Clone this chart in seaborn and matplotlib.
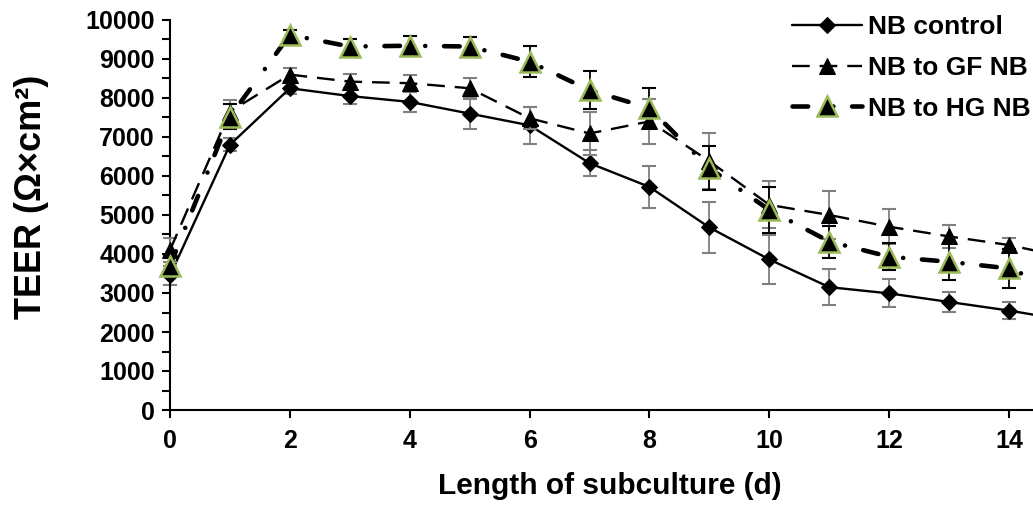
import numpy as np
import pandas as pd
import matplotlib
matplotlib.use("Agg")
import matplotlib.pyplot as plt
import seaborn as sns

# ---- data ----
days = list(range(16))
nb_control = [3450, 6800, 8250, 8050, 7900, 7600, 7300, 6330, 5720, 4680, 3860, 3150, 2990, 2770, 2550, 2290]
nb_control_err = [250, 170, 160, 200, 260, 390, 470, 330, 530, 660, 630, 460, 360, 256, 220, 200]
nb_to_gf = [4100, 7650, 8600, 8420, 8380, 8250, 7480, 7090, 7400, 6380, 5260, 5000, 4700, 4450, 4230, 3900]
nb_to_gf_err = [300, 300, 170, 200, 210, 270, 280, 560, 580, 720, 600, 610, 450, 300, 170, 200]
nb_to_hg = [3700, 7520, 9620, 9320, 9340, 9320, 8930, 8200, 7740, 6200, 5130, 4320, 3930, 3800, 3630, 3000]
nb_to_hg_err = [250, 320, 120, 200, 260, 240, 400, 480, 510, 560, 600, 410, 350, 470, 500, 300]
series_names = ["NB control", "NB to GF NB", "NB to HG NB"]
x_ticks = [0, 2, 4, 6, 8, 10, 12, 14]
y_ticks = list(range(0, 10001, 500))

sns.set_theme(style="ticks")
plt.rcParams['font.family'] = ['Liberation Sans', 'DejaVu Sans']
plt.rcParams['font.weight'] = 'bold'

W, H = 1033, 518
fig = plt.figure(figsize=(W / 100, H / 100), dpi=100)
ax = fig.add_axes([170 / W, 1 - 410 / H, 1 - 170 / W, 390 / H])

green = "#9BBB59"
gray = "#808080"

def errbars(y, e, color, z):
    cont = ax.errorbar(days, y, yerr=e, fmt='none', ecolor=color, elinewidth=1.3,
                       capsize=5, capthick=1.5, zorder=z)
    for ch in cont.get_children():
        ch.set_clip_on(False)

# NB control
errbars(nb_control, nb_control_err, gray, 2)
sns.lineplot(x=days, y=nb_control, ax=ax, color="black", linewidth=1.7,
             marker="D", markersize=8, markeredgecolor="black",
             label=series_names[0], clip_on=False, zorder=3)
# NB to GF NB
errbars(nb_to_gf, nb_to_gf_err, gray, 4)
sns.lineplot(x=days, y=nb_to_gf, ax=ax, color="black", linewidth=1.7,
             linestyle=(0, (7.5, 4.2)), marker="^", markersize=11, markeredgecolor="black",
             label=series_names[1], clip_on=False, zorder=5)
# NB to HG NB
errbars(nb_to_hg, nb_to_hg_err, "black", 6)
sns.lineplot(x=days, y=nb_to_hg, ax=ax, color="black", linewidth=3.3,
             linestyle=(0, (3.4, 5.5, 0.01, 4.1)), dash_capstyle="round",
             marker="^", markersize=14, markerfacecolor="black",
             markeredgecolor=green, markeredgewidth=1.8,
             label=series_names[2], clip_on=False, zorder=7)

ax.set_xlim(0, 14.4)
ax.set_ylim(0, 10000)
ax.set_xticks(x_ticks)
ax.set_xticklabels([str(v) for v in x_ticks])
ax.set_yticks(y_ticks)
ax.set_yticklabels([str(v) if v % 1000 == 0 else "" for v in y_ticks])
ax.tick_params(axis="both", direction="out", length=6, width=1.5, color="black",
               labelsize=18, labelcolor="black")
ax.tick_params(axis="x", pad=8)
ax.tick_params(axis="y", pad=5)
for lab in ax.get_xticklabels() + ax.get_yticklabels():
    lab.set_fontweight("bold")
sns.despine(ax=ax)
for s in ["left", "bottom"]:
    ax.spines[s].set_linewidth(1.5)
    ax.spines[s].set_color("black")

ax.set_xlabel("Length of subculture (d)", fontsize=21.5, fontweight="bold", color="black")
ax.set_ylabel("TEER (Ω×cm²)", fontsize=26, fontweight="bold", color="black")
ax.xaxis.label.set_va("center")
ax.yaxis.label.set_va("center")
ax.xaxis.set_label_coords((610 - 170) / 863, (410 - 486) / 390)
ax.yaxis.set_label_coords((32 - 170) / 863, (410 - 197) / 390)

leg = ax.legend(loc="upper left", bbox_to_anchor=(0.7085, 1.04), frameon=False,
                fontsize=19, handlelength=2.65, handletextpad=0.22,
                labelspacing=0.64, borderaxespad=0)
for t in leg.get_texts():
    t.set_fontweight("bold")
    t.set_color("black")

fig.savefig("out.png", dpi=100)
